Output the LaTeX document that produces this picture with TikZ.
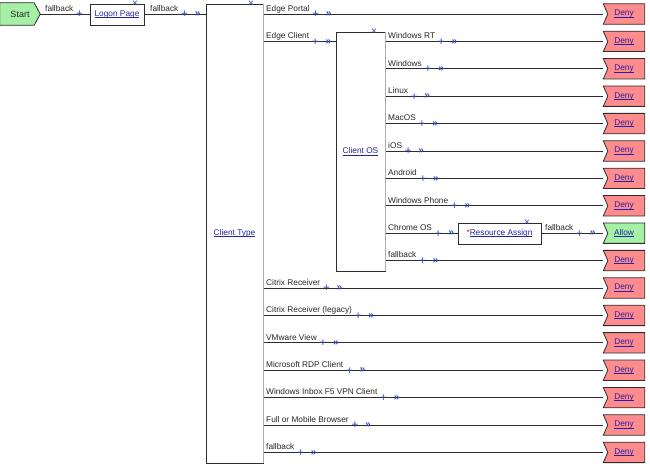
\documentclass[tikz,border=0pt]{standalone}
\usepackage{fontspec}
\setmainfont{Liberation Sans}
\usetikzlibrary{backgrounds,calc}
\pgfdeclarelayer{bgzero}
\pgfsetlayers{bgzero,background,main}
\definecolor{linkc}{RGB}{35,35,165}
\definecolor{plusc}{RGB}{50,70,185}
\definecolor{denyf}{RGB}{255,140,140}
\definecolor{okf}{RGB}{165,240,165}
\definecolor{edgec}{RGB}{45,45,45}
\definecolor{txt}{RGB}{40,40,40}
\newcommand\lnk[1]{\textcolor{linkc}{\setbox0\hbox{#1}\rlap{\rule[-1.3pt]{\wd0}{0.55pt}}\box0}}
\tikzset{
 lab/.style={anchor=base west, inner sep=0pt, text=txt, font=\fontsize{8.3}{10}\selectfont},
 plus/.style={inner sep=0pt, yshift=-0.5pt, text=plusc, font=\fontsize{11.5}{11.5}\selectfont},
 chev/.style={inner sep=0pt, yshift=-0.5pt, text=plusc, font=\fontsize{10}{10}\selectfont\bfseries},
 conn/.style={draw=edgec, line width=0.8pt},
 box/.style={draw=edgec, line width=0.8pt, fill=white, inner sep=0pt, font=\fontsize{8.3}{10}\selectfont},
 termbox/.style={inner sep=0pt, minimum width=41pt, minimum height=20pt, font=\fontsize{8.3}{10}\selectfont},
 xm/.style={inner sep=0pt, text=plusc, font=\fontsize{10}{10}\selectfont},
 rightedge/.style={draw=gray!65, line width=1.3pt},
}
% branch: name, x, y, label, origin node anchor, target
\newcommand\brn[6]{%
 \node[lab] (#1) at (#2,#3-2.7) {#4};
 \coordinate (#1q) at (#2,#3);
 \path (#1.base east |- #1q) ++(6,0) node[plus] (#1p) {+} ++(13,0) node[chev] (#1c) {»};
 \begin{pgfonlayer}{background}\draw[conn] (#5 |- #1q) -- (#6);\end{pgfonlayer}%
}
% terminal: name, y, text, fill
\newcommand\term[4]{%
 \node[termbox] (#1) at (624,#2) {#3};
 \begin{pgfonlayer}{background}\filldraw[fill=#4, draw=edgec, line width=0.8pt] (#1.north west) -- (#1.north east) -- (#1.south east) -- (#1.south west) -- ([xshift=4.5pt]#1.west) -- cycle;\end{pgfonlayer}%
}
\begin{document}
\begin{tikzpicture}[x=1pt,y=-1pt]
\begin{pgfonlayer}{bgzero}
\fill[white] (0,0) rectangle (650,470);
\end{pgfonlayer}
\useasboundingbox (0,0) rectangle (650,470);

% start
\node[termbox, minimum width=40pt, minimum height=22pt, text=txt, font=\fontsize{9}{10}\selectfont] (st) at (20,14) {Start};
\begin{pgfonlayer}{background}
\filldraw[fill=okf, draw=edgec, line width=0.8pt] (st.north west) -- ([xshift=-6pt]st.north east) -- (st.east) -- ([xshift=-6pt]st.south east) -- (st.south west) -- cycle;
\end{pgfonlayer}

% boxes
\node[box, minimum width=54pt, minimum height=21pt] (lp) at (117,14.5) {\lnk{Logon Page}};
\node[box, minimum width=57pt, minimum height=459pt] (ct) at (234.5,233.5) {\lnk{Client Type}};
\node[box, minimum width=49pt, minimum height=239pt] (cos) at (360.5,151.5) {\lnk{Client OS}};
\node[box, minimum width=83pt, minimum height=21pt] (ra) at (499.5,233.5) {\textcolor{red}{*}\lnk{Resource Assign}};
\draw[rightedge] (ct.north east) -- (ct.south east);
\draw[rightedge] (cos.north east) -- (cos.south east);

\node[xm] (lpx) at (135,4) {×};
\node[xm] (ctx) at (251,4) {×};
\node[xm] (cosx) at (374,32) {×};
\node[xm] (rax) at (527,223) {×};

% terminals
\term{d1}{14}{\lnk{Deny}}{denyf}
\term{d2}{41.4}{\lnk{Deny}}{denyf}
\term{d3}{68.8}{\lnk{Deny}}{denyf}
\term{d4}{96.2}{\lnk{Deny}}{denyf}
\term{d5}{123.6}{\lnk{Deny}}{denyf}
\term{d6}{151}{\lnk{Deny}}{denyf}
\term{d7}{178.4}{\lnk{Deny}}{denyf}
\term{d8}{205.8}{\lnk{Deny}}{denyf}
\term{al}{233.2}{\lnk{Allow}}{okf}
\term{d9}{260.6}{\lnk{Deny}}{denyf}
\term{d10}{288}{\lnk{Deny}}{denyf}
\term{d11}{315.4}{\lnk{Deny}}{denyf}
\term{d12}{342.8}{\lnk{Deny}}{denyf}
\term{d13}{370.2}{\lnk{Deny}}{denyf}
\term{d14}{397.6}{\lnk{Deny}}{denyf}
\term{d15}{425}{\lnk{Deny}}{denyf}
\term{d16}{452.4}{\lnk{Deny}}{denyf}

% start -> logon
\node[lab] (s1) at (45,14-2.7) {fallback};
\coordinate (s1q) at (45,14);
\path (s1.base east |- s1q) ++(6,0) node[plus] (s1p) {+};
\begin{pgfonlayer}{background}\draw[conn] (st.east) -- (lp.west |- st.east);\end{pgfonlayer}
% logon -> client type
\brn{s2}{150}{14}{fallback}{lp.east}{ct.west |- s2q}

% client type branches
\brn{e1}{266}{14}{Edge Portal}{ct.east}{d1.west}
\brn{e2}{266}{41.4}{Edge Client}{ct.east}{cos.west |- e2q}
\brn{e3}{266}{288}{Citrix Receiver}{ct.east}{d10.west}
\brn{e4}{266}{315.4}{Citrix Receiver (legacy)}{ct.east}{d11.west}
\brn{e5}{266}{342.8}{VMware View}{ct.east}{d12.west}
\brn{e6}{266}{370.2}{Microsoft RDP Client}{ct.east}{d13.west}
\brn{e7}{266}{397.6}{Windows Inbox F5 VPN Client}{ct.east}{d14.west}
\brn{e8}{266}{425}{Full or Mobile Browser}{ct.east}{d15.west}
\brn{e9}{266}{452.4}{fallback}{ct.east}{d16.west}

% client OS branches
\brn{o1}{388}{41.4}{Windows RT}{cos.east}{d2.west}
\brn{o2}{388}{68.8}{Windows}{cos.east}{d3.west}
\brn{o3}{388}{96.2}{Linux}{cos.east}{d4.west}
\brn{o4}{388}{123.6}{MacOS}{cos.east}{d5.west}
\brn{o5}{388}{151}{iOS}{cos.east}{d6.west}
\brn{o6}{388}{178.4}{Android}{cos.east}{d7.west}
\brn{o7}{388}{205.8}{Windows Phone}{cos.east}{d8.west}
\brn{o8}{388}{233.2}{Chrome OS}{cos.east}{ra.west |- o8q}
\brn{o9}{388}{260.6}{fallback}{cos.east}{d9.west}

% resource assign -> allow
\brn{r1}{545}{233.2}{fallback}{ra.east}{al.west}
\end{tikzpicture}
\end{document}
